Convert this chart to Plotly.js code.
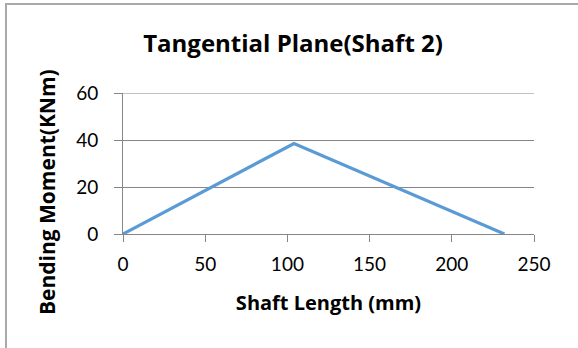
<!DOCTYPE html>
<html>
<head>
<meta charset="utf-8">
<script src="https://cdn.plot.ly/plotly-3.0.1.min.js"></script>
<style>
  html, body { margin: 0; padding: 0; overflow: hidden; background: #fff; }
  #chart { width: 578px; height: 348px; position: relative; }
  #frame {
    position: absolute; left: 5px; top: 3px; width: 700px; height: 500px;
    border-left: 2px solid #a9a9a9; border-top: 2px solid #a9a9a9;
    pointer-events: none;
  }
</style>
</head>
<body>
<div id="chart"></div>
<div id="frame"></div>
<script>
// Bending moment along shaft 2, tangential plane
const shaftLength = [0, 104, 232];          // mm
const bendingMoment = [0, 38.5, 0];         // KNm
const xTicks = [0, 50, 100, 150, 200, 250];
const yTicks = [0, 20, 40, 60];

const TICK_FONT = 'Lato, "Open Sans", sans-serif';
const TITLE_FONT = '"Open Sans", Lato, sans-serif';
const GRID = '#868686';

const trace = {
  x: shaftLength,
  y: bendingMoment,
  type: 'scatter',
  mode: 'lines',
  line: { color: '#5b9bd5', width: 3.2 },
  cliponaxis: false,
  hoverinfo: 'skip'
};

const layout = {
  width: 578,
  height: 348,
  margin: { l: 123, r: 44, t: 93, b: 114 },
  paper_bgcolor: '#ffffff',
  plot_bgcolor: '#ffffff',
  showlegend: false,
  font: { family: TICK_FONT, color: '#000000' },
  title: {
    text: '<b>Tangential Plane(Shaft 2)</b>',
    font: { family: TITLE_FONT, size: 24, color: '#000000' },
    xref: 'container', x: 0.507, xanchor: 'center',
    yref: 'container', y: 0.874, yanchor: 'middle'
  },
  xaxis: {
    range: [0, 250],
    tickvals: xTicks,
    ticktext: xTicks.map(String),
    showgrid: false,
    zeroline: false,
    showline: true,
    linecolor: GRID,
    linewidth: 1,
    ticks: 'outside',
    ticklen: 7,
    tickcolor: GRID,
    ticklabelstandoff: 6,
    tickfont: { family: TICK_FONT, size: 19, color: '#000000' },
    title: {
      text: '<b>Shaft Length (mm)</b>',
      font: { family: TITLE_FONT, size: 20, color: '#000000' },
      standoff: 22
    },
    fixedrange: true
  },
  yaxis: {
    range: [0, 60],
    tickvals: yTicks,
    ticktext: yTicks.map(String),
    showgrid: true,
    gridcolor: GRID,
    gridwidth: 1,
    zeroline: false,
    showline: true,
    linecolor: GRID,
    linewidth: 1,
    ticks: 'outside',
    ticklen: 8,
    tickcolor: GRID,
    ticklabelstandoff: 12,
    tickfont: { family: TICK_FONT, size: 19, color: '#000000' },
    fixedrange: true
  },
  shapes: [{
    // top gridline at the upper end of the value axis
    type: 'line', xref: 'paper', yref: 'y',
    x0: 0, x1: 1, y0: yTicks[yTicks.length - 1], y1: yTicks[yTicks.length - 1],
    line: { color: GRID, width: 1 }, layer: 'below'
  }],
  annotations: [{
    text: '<b>Bending Moment(KNm)</b>',
    textangle: -90,
    xref: 'paper', yref: 'paper',
    x: (47 - 123) / 411, y: (234 - 192) / 141.3,
    xanchor: 'center', yanchor: 'middle',
    showarrow: false,
    font: { family: TITLE_FONT, size: 21, color: '#000000' }
  }]
};

Plotly.newPlot('chart', [trace], layout, { staticPlot: true, displayModeBar: false });
</script>
</body>
</html>
